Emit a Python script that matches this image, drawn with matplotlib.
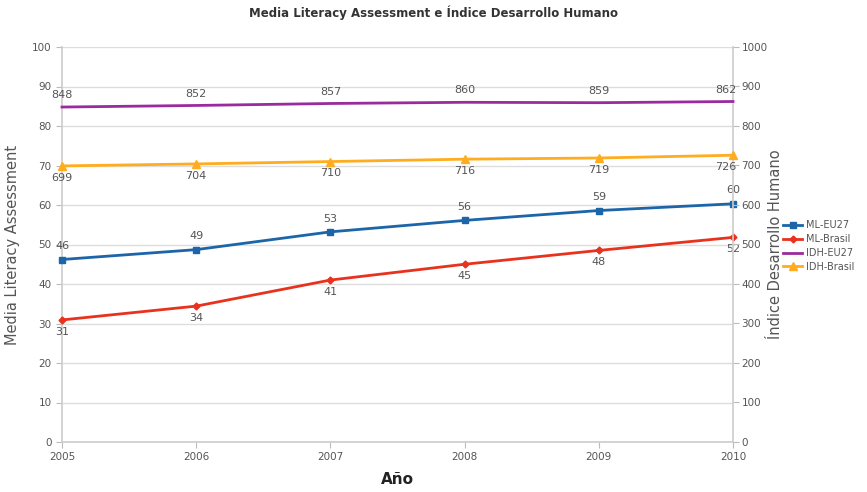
import matplotlib
matplotlib.use("Agg")
import matplotlib.pyplot as plt

years = [2005, 2006, 2007, 2008, 2009, 2010]
ml_eu27 = [46.2, 48.7, 53.2, 56.1, 58.6, 60.3]
ml_brasil = [30.9, 34.4, 41.0, 45.0, 48.5, 51.8]
idh_eu27 = [848, 852, 857, 860, 859, 862]
idh_brasil = [699, 704, 710, 716, 719, 726]

c_eu = "#1c65a8"
c_br = "#e8321e"
c_ideu = "#9a2b9e"
c_idbr = "#ffad1f"
gray = "#555555"

fig = plt.figure(figsize=(8.67, 4.92), dpi=100)
ax = fig.add_axes([62/867, 1-442/492, (733-62)/867, (442-47)/492])
ax2 = ax.twinx()

ax.set_xlim(2005, 2010)
ax.set_ylim(0, 100)
ax2.set_ylim(0, 1000)
ax.set_yticks(range(0, 101, 10))
ax2.set_yticks(range(0, 1001, 100))
ax.set_xticks(years)
ax.grid(axis="y", color="#dddddd", linewidth=1)
ax.set_axisbelow(True)

for a in (ax, ax2):
    for s in a.spines.values():
        s.set_visible(False)
ax.spines["left"].set_visible(True)
ax.spines["bottom"].set_visible(True)
ax2.spines["right"].set_visible(True)
for s in (ax.spines["left"], ax.spines["bottom"], ax2.spines["right"]):
    s.set_color("#cccccc")
    s.set_linewidth(1.2)

ax.tick_params(axis="both", labelsize=7.5, labelcolor=gray, color="#bbbbbb", length=4)
ax2.tick_params(axis="y", labelsize=7.5, labelcolor=gray, color="#bbbbbb", length=4, pad=2)

l1, = ax.plot(years, ml_eu27, color=c_eu, lw=2, marker="s", ms=5, label="ML-EU27", clip_on=False, zorder=5)
l2, = ax.plot(years, ml_brasil, color=c_br, lw=2, marker="D", ms=3.5, label="ML-Brasil", clip_on=False, zorder=5)
l3, = ax2.plot(years, idh_eu27, color=c_ideu, lw=2, label="IDH-EU27", clip_on=False, zorder=5)
l4, = ax2.plot(years, idh_brasil, color=c_idbr, lw=2, marker="^", ms=5.5, label="IDH-Brasil", clip_on=False, zorder=5)

fs = 8
n = len(years)
for i, (x, y) in enumerate(zip(years, ml_eu27)):
    ax.annotate(f"{round(y)}", (x, y), xytext=(0, 6), textcoords="offset points", ha="center", va="bottom", fontsize=fs, color=gray)
for i, (x, y) in enumerate(zip(years, ml_brasil)):
    ax.annotate(f"{round(y)}", (x, y), xytext=(0, -5), textcoords="offset points", ha="center", va="top", fontsize=fs, color=gray)
for i, (x, y) in enumerate(zip(years, idh_eu27)):
    dx = -5 if i == n - 1 else 0
    ax2.annotate(f"{y}", (x, y), xytext=(dx, 5), textcoords="offset points", ha="center", va="bottom", fontsize=fs, color=gray)
for i, (x, y) in enumerate(zip(years, idh_brasil)):
    dx = -5 if i == n - 1 else 0
    ax2.annotate(f"{y}", (x, y), xytext=(dx, -5), textcoords="offset points", ha="center", va="top", fontsize=fs, color=gray)

ax.set_ylabel("Media Literacy Assessment", fontsize=10.5, color=gray)
ax.yaxis.set_label_coords((20-62)/671, 0.5)
ax2.set_ylabel("Índice Desarrollo Humano", fontsize=10.5, color=gray)
ax2.yaxis.set_label_coords((768-62)/671, 0.5)
ax.set_xlabel("Año", fontsize=11, fontweight="bold", color="#222222")
ax.xaxis.set_label_coords(0.5, -0.075)

fig.text(0.5, 1-13/492, "Media Literacy Assessment e Índice Desarrollo Humano", ha="center", va="center",
         fontsize=8.5, fontweight="bold", color="#333333")

fig.legend(handles=[l1, l2, l3, l4], loc="center left", bbox_to_anchor=(783/867, 1-246/492),
           frameon=False, fontsize=7, handlelength=2.0, labelspacing=0.4, handletextpad=0.4,
           borderpad=0, borderaxespad=0, labelcolor=gray)

fig.savefig("out.png", dpi=100)
